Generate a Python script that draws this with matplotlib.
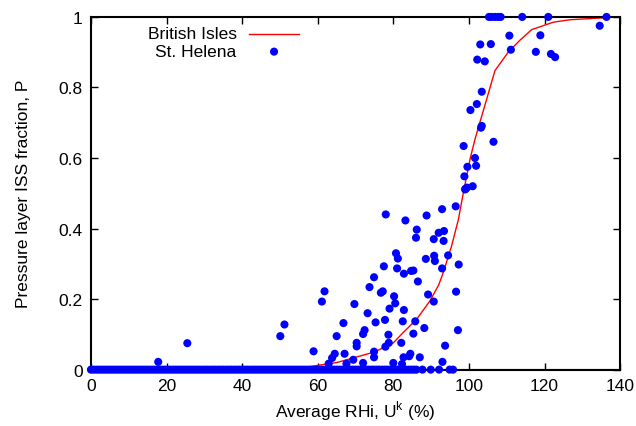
import matplotlib
matplotlib.use("Agg")
import matplotlib.pyplot as plt

plt.rcParams['font.family'] = ['Liberation Sans', 'DejaVu Sans']
plt.rcParams['font.size'] = 12.5

# British Isles fit (red line)
bi_x = [0, 20, 40, 50, 52, 56, 60, 65, 71, 75, 80, 82.6, 86.1, 89.7, 92.0, 93.2,
        95.4, 97.2, 98.5, 100.3, 101.6, 106.9, 110.4, 113.5, 116.6, 122.3, 126.7, 136.4]
bi_y = [0, 0, 0, 0, 0.001, 0.005, 0.012, 0.02, 0.038, 0.05, 0.076, 0.105, 0.142, 0.195,
        0.24, 0.275, 0.35, 0.425, 0.50, 0.597, 0.653, 0.848, 0.90, 0.934, 0.964, 0.985,
        0.992, 0.998]

# St. Helena points with P > 0
sh_x = [17.8, 25.5, 50.1, 51.2, 58.9, 61.1, 61.8, 62.9, 63.8, 64.5, 65.0, 66.8, 67.1,
        67.6, 69.4, 69.7, 70.3, 70.3, 72.0, 72.0, 72.4, 73.2, 73.7, 74.9, 74.9, 74.9,
        75.3, 76.7, 77.2, 77.5, 77.8, 77.9, 78.0, 78.7, 78.8, 79.0, 80.0, 80.2, 80.5,
        80.7, 81.0, 81.2, 82.1, 82.3, 82.5, 82.7, 82.8, 82.8, 83.2, 84.2, 84.5, 84.7,
        85.3, 85.3, 85.8, 86.0, 86.2, 86.5, 87.0, 88.2, 88.6, 88.8, 89.2, 90.7, 90.7,
        90.8, 91.0, 92.0, 92.9, 92.9, 93.0, 93.3, 93.4, 93.7, 94.5, 96.5, 96.6, 97.1,
        97.3, 98.6, 98.8, 99.0, 99.1, 99.5, 99.6, 100.4, 101.0, 101.6, 101.9, 102.1,
        102.2, 103.0, 103.2, 103.4, 103.4, 104.2, 105.3, 106.0, 106.9, 107.7, 108.4,
        105.8, 106.5, 110.7, 111.1, 114.1, 117.7, 118.9, 121.0, 121.7, 122.8, 134.6,
        136.4]
sh_y = [0.022, 0.075, 0.095, 0.128, 0.052, 0.193, 0.222, 0.017, 0.033, 0.045, 0.095,
        0.132, 0.045, 0.017, 0.028, 0.186, 0.076, 0.066, 0.019, 0.101, 0.112, 0.160,
        0.234, 0.262, 0.051, 0.035, 0.134, 0.218, 0.222, 0.293, 0.141, 0.065, 0.440,
        0.099, 0.076, 0.173, 0.019, 0.208, 0.188, 0.330, 0.287, 0.315, 0.076, 0.016,
        0.137, 0.035, 0.272, 0.169, 0.423, 0.038, 0.045, 0.280, 0.281, 0.102, 0.137,
        0.374, 0.397, 0.250, 0.035, 0.118, 0.314, 0.437, 0.213, 0.370, 0.193, 0.323,
        0.308, 0.388, 0.455, 0.287, 0.022, 0.365, 0.393, 0.068, 0.324, 0.463, 0.221,
        0.112, 0.298, 0.634, 0.548, 0.511, 0.513, 0.516, 0.575, 0.736, 0.520, 0.600,
        0.578, 0.753, 0.879, 0.922, 0.686, 0.691, 0.788, 0.874, 1.0, 1.0, 1.0, 1.0,
        1.0, 0.923, 0.646, 0.947, 0.907, 1.0, 0.901, 0.948, 1.0, 0.895, 0.886, 0.975,
        1.0]

# St. Helena points with P = 0 (they pile up into a band along the x axis)
zero_x = [0.0, 0.7, 1.4, 2.1, 2.8, 3.5, 4.2, 4.9, 5.6, 6.3, 7.0, 7.7, 8.4, 9.1, 9.8,
          10.5, 11.2, 11.9, 12.6, 13.3, 14.0, 14.7, 15.4, 16.1, 16.8, 17.5, 18.2, 18.9,
          19.6, 20.3, 21.0, 21.7, 22.4, 23.1, 23.8, 24.5, 25.2, 25.9, 26.6, 27.3, 28.0,
          28.7, 29.4, 30.1, 30.8, 31.5, 32.2, 32.9, 33.6, 34.3, 35.0, 35.7, 36.4, 37.1,
          37.8, 38.5, 39.2, 39.9, 40.6, 41.3, 42.0, 42.7, 43.4, 44.1, 44.8, 45.5, 46.2,
          46.9, 47.6, 48.3, 49.0, 49.7, 50.4, 51.1, 51.8, 52.5, 53.2, 53.9, 54.6, 55.3,
          56.0, 56.7, 57.4, 58.1, 58.8, 59.5, 60.2, 60.9, 61.6, 62.3, 63.0, 63.7, 64.4,
          65.1, 65.8, 66.5, 67.2, 67.9, 68.6, 69.3, 70.0, 70.7, 71.4, 72.1, 72.8, 73.5,
          74.2, 74.9, 75.6, 76.3, 77.0, 77.7, 78.4, 79.1, 79.8, 80.5, 81.2, 81.9, 82.6,
          83.3, 84.0, 84.7, 85.4, 86.1, 87.7, 89.9, 92.1, 94.9, 95.8]

fig = plt.figure(figsize=(6.36, 4.27), dpi=100)
ax = fig.add_axes([0.143, 0.132, 0.832, 0.826])

ax.plot(bi_x, bi_y, color='red', lw=1.0, zorder=2)
ax.scatter(sh_x, sh_y, s=34, color='blue', edgecolors='none', clip_on=False, zorder=3)
ax.scatter(zero_x, [0] * len(zero_x), s=34, color='blue', edgecolors='none',
           clip_on=False, zorder=3)
ax.axhline(0, color='black', lw=1.5, zorder=4)

ax.set_xlim(0, 140)
ax.set_ylim(0, 1)
ax.set_xticks(range(0, 141, 20))
ax.set_yticks([0, 0.2, 0.4, 0.6, 0.8, 1])
ax.set_yticklabels(['0', '0.2', '0.4', '0.6', '0.8', '1'])
ax.tick_params(direction='in', length=5, width=1, top=True, right=True, pad=6)
for s in ax.spines.values():
    s.set_linewidth(1.5)

ax.set_xlabel('Average RHi, U$^{\\mathregular{k}}$ (%)', labelpad=4)
ax.set_ylabel('Pressure layer ISS fraction, P', labelpad=20)

# gnuplot-style key: text right-aligned, sample on the right
ax.text(0.2755, 0.952, 'British Isles', transform=ax.transAxes, ha='right', va='center')
ax.plot([0.299, 0.393], [0.952, 0.952], transform=ax.transAxes, color='red', lw=1.0,
        clip_on=False)
ax.text(0.2755, 0.9016, 'St. Helena', transform=ax.transAxes, ha='right', va='center')
ax.scatter([0.346], [0.9016], transform=ax.transAxes, s=34, color='blue',
           edgecolors='none', clip_on=False)

fig.savefig('out.png', dpi=100)
